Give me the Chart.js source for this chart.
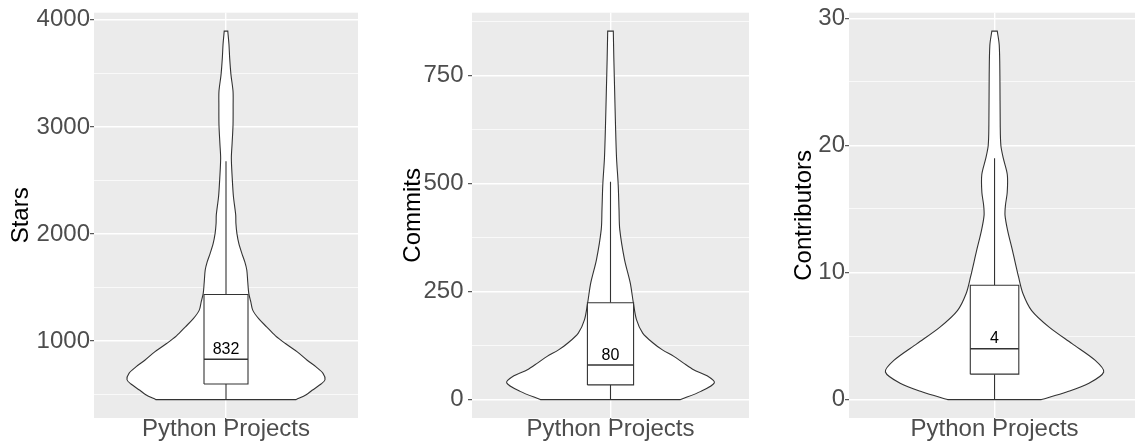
<!DOCTYPE html>
<html><head><meta charset="utf-8">
<script src="https://cdn.jsdelivr.net/npm/chart.js@4/dist/chart.umd.min.js"></script>
<style>
html,body{margin:0;padding:0;background:#fff;width:1135px;height:445px;overflow:hidden}
canvas{position:absolute;top:0}
</style></head><body>
<canvas id="c0" width="370" height="445" style="left:0px;width:370px;height:445px"></canvas>
<canvas id="c1" width="380" height="445" style="left:380px;width:380px;height:445px"></canvas>
<canvas id="c2" width="375" height="445" style="left:760px;width:375px;height:445px"></canvas>
<script>
// ---------------- data ----------------
const categories = ['Python Projects'];
const metricNames = ['Stars', 'Commits', 'Contributors'];

// violin outline: value positions and relative density (1 = widest)
const starsViolinY = [455, 500, 542, 600, 640, 700, 760, 822, 900, 978, 1050, 1134, 1210, 1290, 1370, 1446, 1550, 1664, 1740, 1820, 1910, 2007, 2100, 2179, 2350, 2522, 2709, 2850, 3021, 3200, 3332, 3488, 3644, 3769, 3894];
const starsViolinW = [0.71, 0.81, 0.87, 0.96, 1.0, 0.98, 0.91, 0.82, 0.72, 0.60, 0.50, 0.41, 0.33, 0.27, 0.25, 0.23, 0.22, 0.21, 0.19, 0.16, 0.13, 0.11, 0.10, 0.098, 0.075, 0.063, 0.054, 0.062, 0.071, 0.072, 0.071, 0.05, 0.037, 0.03, 0.018];
const starsBox = [455, 601, 832, 1436, 2680];      // lower whisker, Q1, median, Q3, upper whisker
const starsMajorTicks = [1000, 2000, 3000, 4000];
const starsMinorTicks = [500, 1500, 2500, 3500];

const commitsViolinY = [0, 19, 39, 55, 69, 85, 100, 115, 131, 154, 185, 224, 270, 324, 394, 440, 498, 560, 637, 714, 791, 853];
const commitsViolinW = [0.675, 0.87, 1.0, 0.93, 0.80, 0.70, 0.61, 0.50, 0.41, 0.31, 0.25, 0.22, 0.19, 0.135, 0.089, 0.082, 0.074, 0.058, 0.048, 0.040, 0.032, 0.027];
const commitsBox = [0, 34, 80, 224, 504];
const commitsMajorTicks = [0, 250, 500, 750];
const commitsMinorTicks = [125, 375, 625, 875];

const contribViolinY = [0, 0.6, 1.26, 2.17, 3.1, 4.4, 5.7, 7.0, 8.35, 9.65, 11.7, 13.3, 14.5, 15.3, 16.3, 17.7, 19, 20, 21.6, 25.5, 27.9, 29];
const contribViolinW = [0.43, 0.66, 0.86, 1.0, 0.92, 0.71, 0.50, 0.34, 0.26, 0.22, 0.165, 0.12, 0.096, 0.10, 0.116, 0.117, 0.08, 0.058, 0.052, 0.049, 0.043, 0.025];
const contribBox = [0, 2, 4, 9, 19];
const contribMajorTicks = [0, 10, 20, 30];
const contribMinorTicks = [5, 15, 25];

// ---------------- layout / style ----------------
const FONT = "'Liberation Sans', Arial, Helvetica, sans-serif";
const panelLayout = [
  {canvas: 'c0', yAxisWidth: 94, padRight: 12, titlePad: 6.6, xMax: 1.6, tickPad: 0},
  {canvas: 'c1', yAxisWidth: 92, padRight: 11, titlePad: 18.6, xMax: 1.6, tickPad: 4.5},
  {canvas: 'c2', yAxisWidth: 89, padRight: 0, titlePad: 29.9, xMax: 1.579, tickPad: 0}
];
const panelData = [
  {name: metricNames[0], vy: starsViolinY, vw: starsViolinW, box: starsBox, majors: starsMajorTicks, minors: starsMinorTicks},
  {name: metricNames[1], vy: commitsViolinY, vw: commitsViolinW, box: commitsBox, majors: commitsMajorTicks, minors: commitsMinorTicks},
  {name: metricNames[2], vy: contribViolinY, vw: contribViolinW, box: contribBox, majors: contribMajorTicks, minors: contribMinorTicks}
];

const panelBg = {
  id: 'panelBg',
  beforeDraw(chart) {
    const {ctx, chartArea: a} = chart;
    ctx.save();
    ctx.fillStyle = '#EBEBEB';
    ctx.fillRect(a.left, a.top, a.right - a.left, a.bottom - a.top);
    ctx.restore();
  }
};
const medianLabel = {
  id: 'medianLabel',
  afterDatasetsDraw(chart, args, opts) {
    const x = chart.scales.x.getPixelForValue(1);
    const y = chart.scales.y.getPixelForValue(opts.value);
    const ctx = chart.ctx;
    ctx.save();
    ctx.font = '16px ' + FONT;
    ctx.fillStyle = '#000000';
    ctx.textAlign = 'center';
    ctx.textBaseline = 'alphabetic';
    ctx.fillText(opts.text, x, y - 5.5);
    ctx.restore();
  }
};

const LINE = '#333333';
function zeroPad(s) { s.paddingTop = 0; s.paddingBottom = 0; s.paddingLeft = 0; s.paddingRight = 0; }

panelData.forEach((d, k) => {
  const L = panelLayout[k];
  const lo = d.vy[0], hi = d.vy[d.vy.length - 1], span = hi - lo;
  const right = d.vy.map((y, i) => ({x: 1 + 0.45 * d.vw[i], y}));
  const left = d.vy.map((y, i) => ({x: 1 - 0.45 * d.vw[i], y})).reverse();
  // duplicate the four corner points so the spline keeps sharp corners at the trimmed ends
  const r0 = right[0], rN = right[right.length - 1], lN = left[0], l0 = left[left.length - 1];
  const violin = [r0].concat(right, [rN, lN], left, [l0, r0, r0]);
  const [wl, q1, md, q3, wh] = d.box;
  const isMajor = v => d.majors.includes(v);
  const lineDs = (data, order, extra) => Object.assign({
    data, order, borderColor: LINE, borderWidth: 1.1, pointRadius: 0, pointHoverRadius: 0,
    fill: false, tension: 0, backgroundColor: '#FFFFFF'
  }, extra || {});

  new Chart(document.getElementById(L.canvas), {
    type: 'line',
    data: {
      datasets: [
        lineDs(violin, 5, {fill: 'shape', tension: 0.3}),
        lineDs([{x: 1, y: wl}, {x: 1, y: q1}], 2),
        lineDs([{x: 1, y: q3}, {x: 1, y: wh}], 2),
        lineDs([{x: 0.9, y: q1}, {x: 1.1, y: q1}, {x: 1.1, y: q3}, {x: 0.9, y: q3}, {x: 0.9, y: q1}], 1, {fill: 'shape'}),
        lineDs([{x: 0.9, y: md}, {x: 1.1, y: md}], 0, {borderWidth: 1.6})
      ]
    },
    options: {
      responsive: false,
      animation: false,
      devicePixelRatio: 1,
      events: [],
      layout: {padding: {left: 0, right: L.padRight, top: 12.7, bottom: 0}},
      plugins: {
        legend: {display: false},
        tooltip: {enabled: false},
        medianLabel: {value: md, text: String(md)}
      },
      scales: {
        x: {
          type: 'linear', min: 0.4, max: L.xMax,
          afterBuildTicks: s => { s.ticks = [{value: 1}]; },
          afterFit: s => { s.height = 27; zeroPad(s); },
          ticks: {autoSkip: false, maxRotation: 0, minRotation: 0, padding: -7, color: '#4D4D4D',
                  font: {family: FONT, size: 24}, callback: () => categories[0]},
          grid: {color: '#FFFFFF', lineWidth: 1.4, tickLength: 4, tickColor: LINE, tickWidth: 1},
          border: {display: false}
        },
        y: {
          type: 'linear', min: lo - 0.05 * span, max: hi + 0.05 * span,
          afterBuildTicks: s => { s.ticks = d.majors.concat(d.minors).sort((a, b) => a - b).map(v => ({value: v})); },
          afterFit: s => { s.width = L.yAxisWidth; zeroPad(s); },
          ticks: {autoSkip: false, padding: L.tickPad, color: '#4D4D4D', font: {family: FONT, size: 24},
                  callback: v => isMajor(v) ? String(v) : ''},
          grid: {
            color: '#FFFFFF',
            lineWidth: c => (c.tick && isMajor(c.tick.value)) ? 1.4 : 0.7,
            tickLength: 4,
            tickColor: c => (c.tick && isMajor(c.tick.value)) ? LINE : 'rgba(0,0,0,0)',
            tickWidth: 1
          },
          border: {display: false},
          title: {display: true, text: d.name, color: '#000000', font: {family: FONT, size: 24},
                  padding: {top: L.titlePad, bottom: 0}}
        }
      }
    },
    plugins: [panelBg, medianLabel]
  });
});
</script>
</body></html>
